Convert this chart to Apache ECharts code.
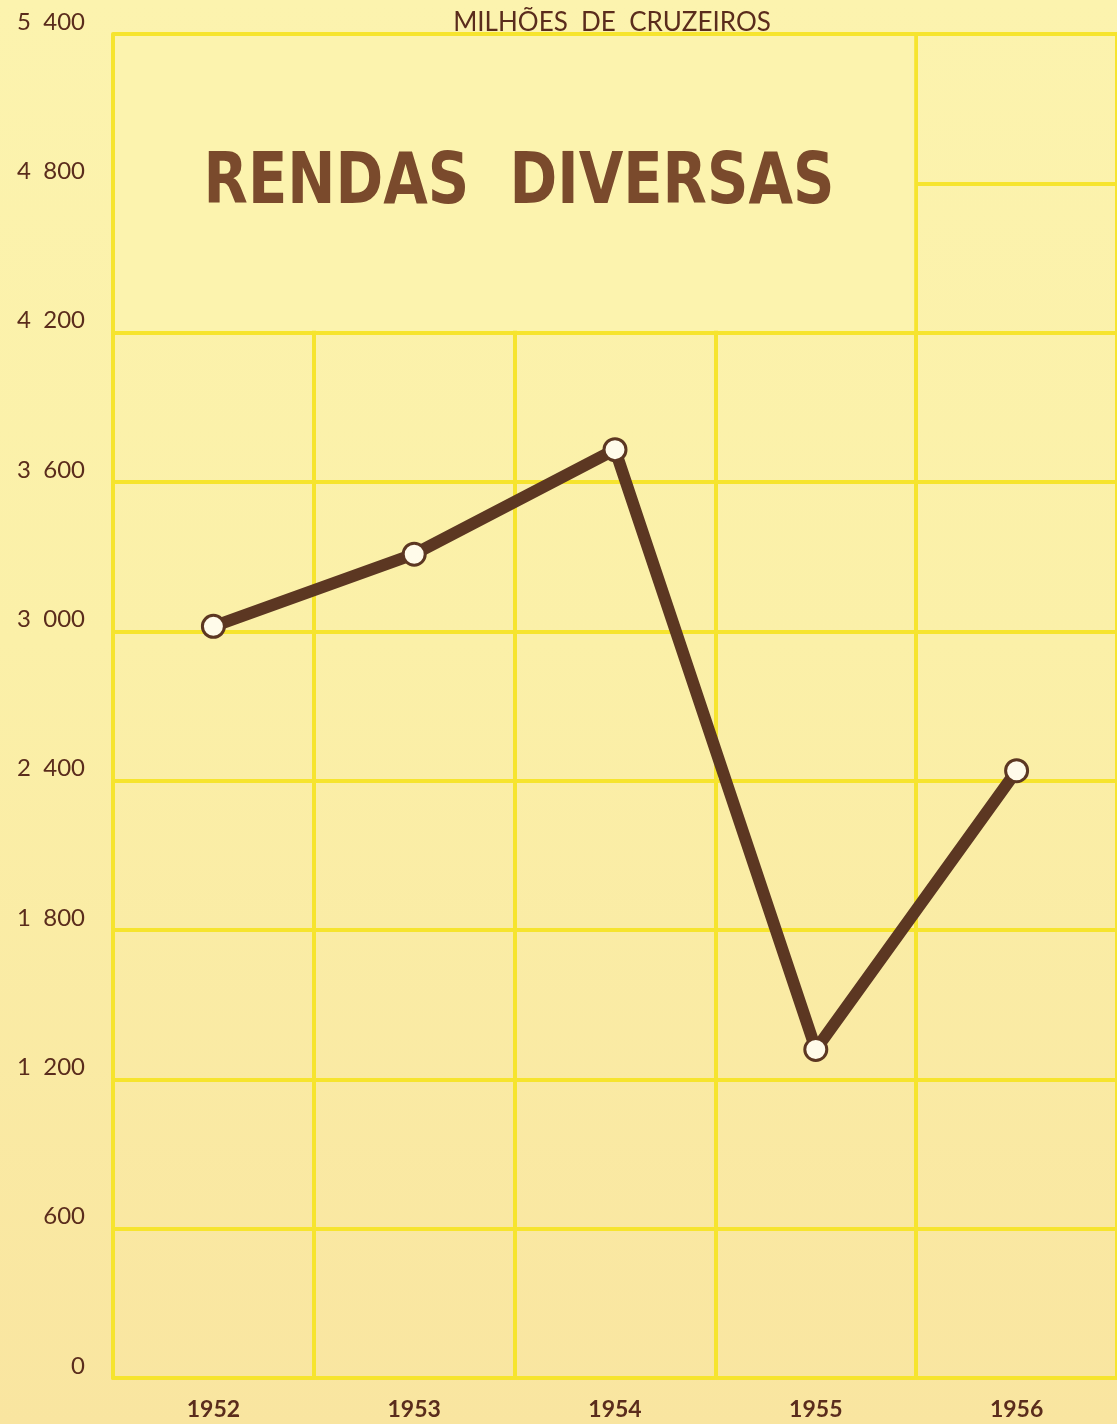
<!DOCTYPE html>
<html>
<head>
<meta charset="utf-8">
<script src="https://cdn.jsdelivr.net/npm/echarts@6/dist/echarts.min.js"></script>
<style>
  html, body { margin: 0; padding: 0; }
  #chart { width: 1117px; height: 1424px; }
</style>
</head>
<body>
<div id="chart"></div>
<script>
// data
const years = ['1952', '1953', '1954', '1955', '1956']
const rendas = [3020, 3310, 3730, 1320, 2440]
const yTicks = { min: 0, max: 5400, interval: 600 }

const ink = '#5a2c1c'
const lineBrown = '#5c3722'
const gridYellow = '#f6e42e'
const paperTop = '#fcf3ae'

const chart = echarts.init(document.getElementById('chart'))

chart.setOption({
  backgroundColor: {
    type: 'linear', x: 0, y: 0, x2: 0, y2: 1,
    colorStops: [
      { offset: 0, color: paperTop },
      { offset: 0.45, color: '#fbf0a8' },
      { offset: 1, color: '#f9e5a0' }
    ]
  },
  animation: false,
  title: {
    text: 'MILHÕES  DE  CRUZEIROS',
    left: 607,
    top: 5,
    textAlign: 'center',
    textStyle: {
      fontFamily: 'Lato',
      fontWeight: 'normal',
      fontSize: 26,
      color: ink
    }
  },
  grid: {
    left: 113,
    top: 34,
    width: 1010,
    bottom: 46
  },
  xAxis: {
    type: 'category',
    data: years,
    boundaryGap: true,
    axisLine: { lineStyle: { color: gridYellow, width: 4 } },
    axisTick: { show: false },
    splitLine: { show: true, interval: 0, lineStyle: { color: gridYellow, width: 4 } },
    axisLabel: {
      margin: 20,
      fontFamily: 'Lato',
      fontWeight: 'bold',
      fontSize: 23,
      color: ink
    }
  },
  yAxis: {
    type: 'value',
    min: yTicks.min,
    max: yTicks.max,
    interval: yTicks.interval,
    axisLine: { show: true, lineStyle: { color: gridYellow, width: 4 } },
    axisTick: { show: false },
    splitLine: { lineStyle: { color: gridYellow, width: 4 } },
    axisLabel: {
      margin: 28,
      fontFamily: 'Lato',
      fontSize: 24,
      color: ink,
      verticalAlign: 'bottom',
      formatter: v => String(v).replace(/\B(?=(\d{3})+(?!\d))/g, '  ')
    }
  },
  series: [{
    type: 'line',
    data: rendas,
    z: 5,
    symbol: 'circle',
    symbolSize: 22,
    lineStyle: { color: lineBrown, width: 12, cap: 'round', join: 'round' },
    itemStyle: { color: '#fffbea', borderColor: lineBrown, borderWidth: 3 }
  }]
})

// blank out the grid behind the title box (top-left, above 4 200)
const px = v => chart.convertToPixel({ xAxisIndex: 0, yAxisIndex: 0 }, v)
const p0 = px([years[0], 5400])
const p1 = px([years[1], 4200])
const p3 = px([years[3], 4200])
const p4 = px([years[4], 4200])
const band = p1[0] - p0[0]
const x0 = p0[0] - band / 2 + 2
const x1 = (p3[0] + p4[0]) / 2 - 2
const y0 = p0[1] + 2
const y1 = p1[1] - 2

chart.setOption({
  graphic: [{
    type: 'rect',
    z: 1,
    silent: true,
    shape: { x: x0, y: y0, width: x1 - x0, height: y1 - y0 },
    style: { fill: paperTop }
  }, {
    type: 'text',
    z: 6,
    silent: true,
    x: 519,
    y: 184,
    scaleX: 0.8,
    style: {
      text: 'RENDAS  DIVERSAS',
      fontFamily: 'DejaVu Sans',
      fontWeight: 'bold',
      fontSize: 72,
      fill: '#7a4a2c',
      align: 'center',
      verticalAlign: 'middle'
    }
  }]
})
</script>
</body>
</html>
